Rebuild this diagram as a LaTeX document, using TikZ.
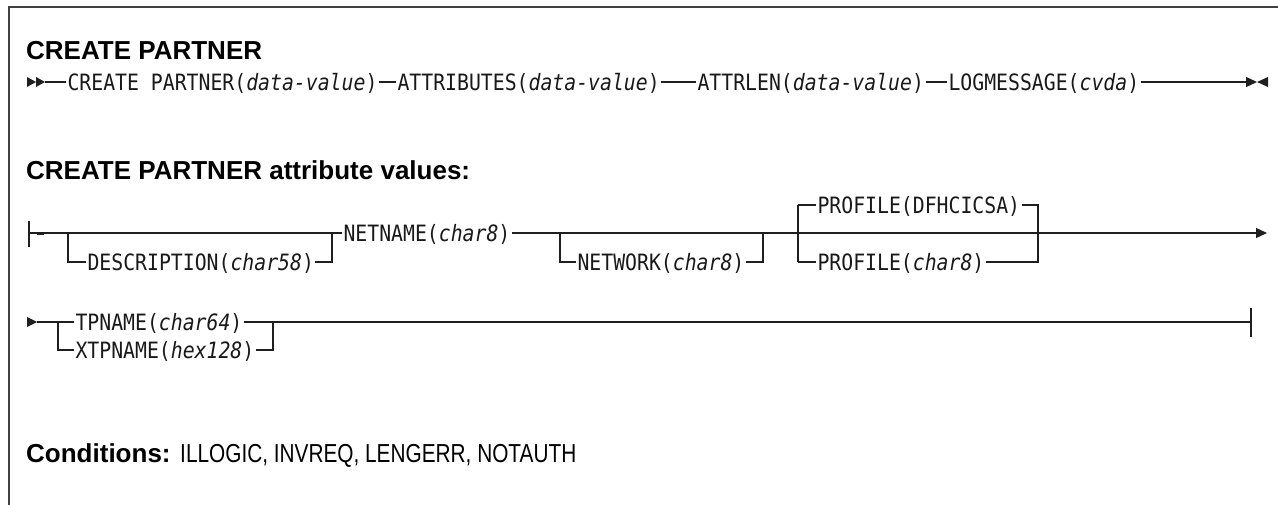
\documentclass[tikz,border=0pt]{standalone}
\usepackage{fontspec}
\setmainfont{Liberation Sans}
\newfontfamily\synfont[FakeStretch=0.88]{DejaVu Sans Mono}
\newfontfamily\condfont[FakeStretch=0.8]{Liberation Sans}
\usetikzlibrary{arrows.meta}
\begin{document}
\begin{tikzpicture}[x=1pt,y=-1pt,
  frame/.style={line width=1.6pt, draw=black!75, line cap=rect},
  rail/.style={line width=1.3pt, draw=black!88},
  heavy/.style={line width=2.2pt, draw=black!88},
  tip/.style={fill=black!88},
  kw/.style={font=\synfont\fontsize{22.5}{25}\selectfont, text=black!90, inner xsep=1.5pt,
    inner ysep=0pt, outer sep=0pt, text height=16.4pt, text depth=0pt, anchor=west},
  head/.style={font=\fontsize{26}{30}\selectfont, inner sep=0pt, anchor=base west},
  endtip/.style={-{Triangle[length=11pt,width=10pt]}}
]
\useasboundingbox (0,0) rectangle (1278,505);

% page frame: top rule and left rule
\draw[frame] (1278,7) -- (9,7) -- (9,505);

% headings
\node[head] (title) at (26,60) {\bfseries CREATE PARTNER};
\node[head] (attrhead) at (26,180) {\bfseries CREATE PARTNER attribute values:};
\node[head] (cond) at (26,462) {\textbf{Conditions:} {\condfont ILLOGIC, INVREQ, LENGERR, NOTAUTH}};

% ---------------- main command syntax ----------------
\fill[tip] (27,77) -- (36,82) -- (27,87) -- cycle;
\fill[tip] (36,77) -- (45,82) -- (36,87) -- cycle;
\coordinate (r1s) at (45,82);
\node[kw] (cp) at (66,82)  {CREATE PARTNER(\textit{data-value})};
\node[kw] (at) at (396,82) {ATTRIBUTES(\textit{data-value})};
\node[kw] (al) at (696,82) {ATTRLEN(\textit{data-value})};
\node[kw] (lm) at (947,82) {LOGMESSAGE(\textit{cvda})};
\coordinate (r1e) at (1257,82);
\draw[rail] (r1s) -- (cp.west);
\draw[rail] (cp.east) -- (at.west);
\draw[rail] (at.east) -- (al.west);
\draw[rail] (al.east) -- (lm.west);
\draw[rail,endtip] (lm.east) -- (r1e);
\draw[heavy] (lm.east) -- ++(25,0);
\fill[tip] (1268,77) -- (1257,82) -- (1268,87) -- cycle;

% ---------------- attribute values, first line ----------------
\coordinate (r2s) at (29,233);
\draw[rail] (29,221) -- (29,247);
\draw[heavy] (37,234) -- (44,234);
\coordinate (b1) at (68,233);   \coordinate (b1d) at (68,262);
\coordinate (j1) at (332,233);  \coordinate (j1d) at (332,262);
\coordinate (b2) at (560,233);  \coordinate (b2d) at (560,262);
\coordinate (j2) at (763,233);  \coordinate (j2d) at (763,262);
\coordinate (b3) at (798,233);  \coordinate (b3u) at (798,205); \coordinate (b3d) at (798,262);
\coordinate (j3) at (1038,233); \coordinate (j3u) at (1038,205); \coordinate (j3d) at (1038,262);
\coordinate (r2e) at (1267,233);

\node[kw] (desc) at (86,262)  {DESCRIPTION(\textit{char58})};
\node[kw] (netn) at (342,233) {NETNAME(\textit{char8})};
\node[kw] (netw) at (576,262) {NETWORK(\textit{char8})};
\node[kw] (pdef) at (816,205) {PROFILE(DFHCICSA)};
\node[kw] (pch)  at (816,262) {PROFILE(\textit{char8})};

\draw[rail] (r2s) -- (b1) -- (j1) -- (netn.west);
\draw[rail] (b1) -- (b1d) -- (desc.west);
\draw[rail] (desc.east) -- (j1d) -- (j1);
\draw[rail] (netn.east) -- (b2) -- (j2) -- (b3) -- (j3);
\draw[rail] (b2) -- (b2d) -- (netw.west);
\draw[rail] (netw.east) -- (j2d) -- (j2);
\draw[rail] (b3u) -- (b3d);
\draw[rail] (b3u) -- (pdef.west);
\draw[rail] (b3d) -- (pch.west);
\draw[rail] (pdef.east) -- (j3u) -- (j3d) -- (pch.east);
\draw[rail,endtip] (j3) -- (r2e);

% ---------------- attribute values, second line ----------------
\fill[tip] (27,317) -- (37,322) -- (27,327) -- cycle;
\coordinate (r3s) at (37,322);
\coordinate (b4) at (58,322);  \coordinate (b4d) at (58,350);
\coordinate (j4) at (273,322); \coordinate (j4d) at (273,350);
\coordinate (r3e) at (1251,322);
\node[kw] (tp)  at (74,322) {TPNAME(\textit{char64})};
\node[kw] (xtp) at (74,350) {XTPNAME(\textit{hex128})};
\draw[rail] (r3s) -- (b4) -- (tp.west);
\draw[rail] (b4) -- (b4d) -- (xtp.west);
\draw[rail] (xtp.east) -- (j4d) -- (j4);
\draw[rail] (tp.east) -- (j4) -- (r3e);
\draw[heavy] (278,322) -- (300,322);
\draw[rail] (1251,308) -- (1251,337);
\end{tikzpicture}
\end{document}
